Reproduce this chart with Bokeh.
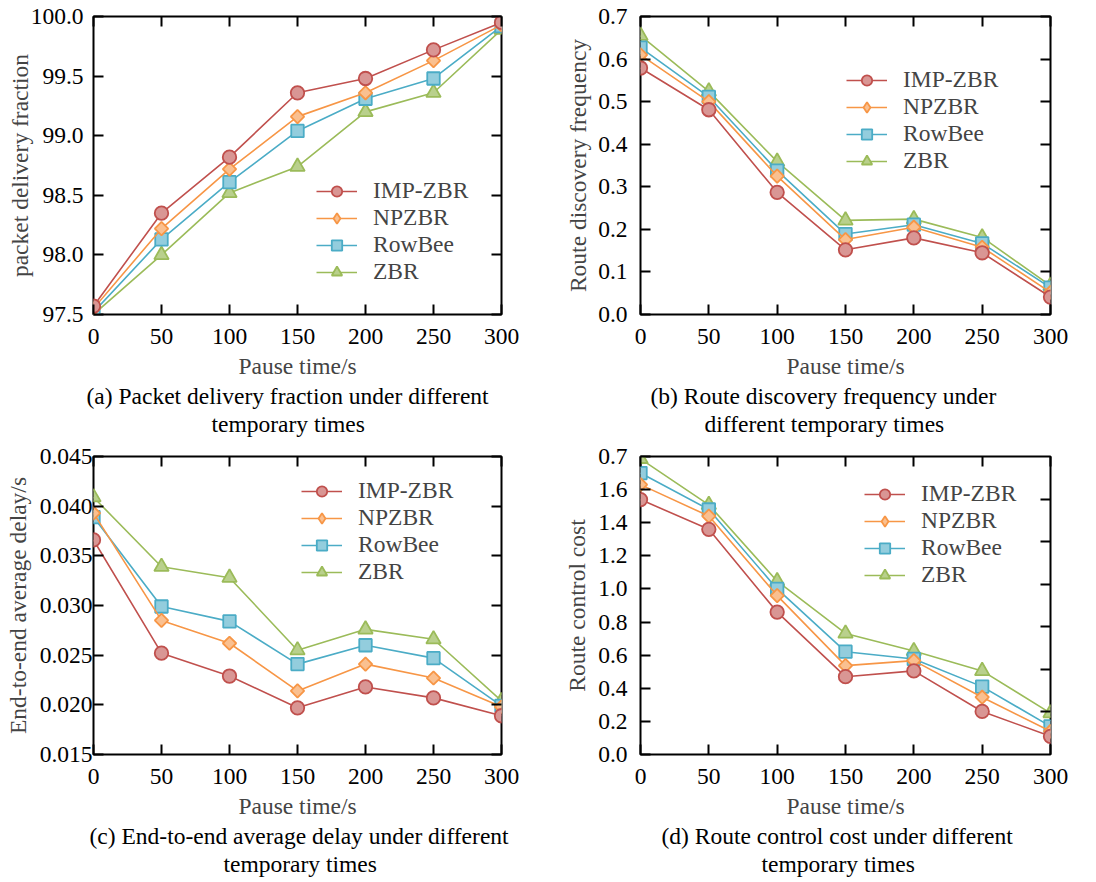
import math
from bokeh.plotting import figure
from bokeh.layouts import column, row
from bokeh.models import (Range1d, FixedTicker, LinearAxis, PrintfTickFormatter,
                          Legend, LegendItem, Title)
from bokeh.embed import file_html
from bokeh.resources import INLINE

# ---------------- data ----------------
pause_time = [0, 50, 100, 150, 200, 250, 300]
series_names = ["IMP-ZBR", "NPZBR", "RowBee", "ZBR"]

# (a) packet delivery fraction
pdf_imp = [97.57, 98.35, 98.82, 99.36, 99.48, 99.72, 99.95]
pdf_np = [97.55, 98.22, 98.72, 99.16, 99.36, 99.63, 99.93]
pdf_row = [97.52, 98.13, 98.61, 99.04, 99.31, 99.48, 99.92]
pdf_zbr = [97.50, 98.00, 98.52, 98.74, 99.20, 99.36, 99.89]

# (b) route discovery frequency
rdf_imp = [0.579, 0.481, 0.287, 0.152, 0.180, 0.145, 0.041]
rdf_np = [0.610, 0.500, 0.325, 0.176, 0.205, 0.158, 0.052]
rdf_row = [0.627, 0.511, 0.338, 0.189, 0.211, 0.167, 0.063]
rdf_zbr = [0.655, 0.524, 0.359, 0.221, 0.224, 0.181, 0.068]

# (c) end-to-end average delay
delay_imp = [0.0366, 0.0252, 0.0229, 0.0197, 0.0218, 0.0207, 0.0189]
delay_np = [0.0393, 0.0285, 0.0262, 0.0214, 0.0241, 0.0227, 0.0198]
delay_row = [0.0389, 0.0299, 0.0284, 0.0241, 0.0260, 0.0247, 0.0199]
delay_zbr = [0.0409, 0.0339, 0.0328, 0.0255, 0.0276, 0.0266, 0.0204]

# (d) route control cost
cost_imp = [1.54, 1.36, 0.86, 0.47, 0.505, 0.26, 0.11]
cost_np = [1.63, 1.44, 0.96, 0.537, 0.567, 0.346, 0.14]
cost_row = [1.70, 1.48, 1.00, 0.621, 0.577, 0.41, 0.17]
cost_zbr = [1.786, 1.508, 1.047, 0.731, 0.625, 0.505, 0.25]

ticks_a = [97.5, 98.0, 98.5, 99.0, 99.5, 100.0]
ticks_b = [0.0, 0.1, 0.2, 0.3, 0.4, 0.5, 0.6, 0.7]
ticks_c = [0.015, 0.020, 0.025, 0.030, 0.035, 0.040, 0.045]
ticks_d = [0.0, 0.2, 0.4, 0.6, 0.8, 1.0, 1.2, 1.4, 1.6, 1.8]
labels_d = {1.8: "0.7"}
ticks_d_right = [0.1, 0.2, 0.3, 0.4, 0.5, 0.6]

x_title = "Pause time/s"
y_titles = ["packet delivery fraction", "Route discovery frequency",
            "End-to-end average delay/s", "Route control cost"]
captions = [("(a) Packet delivery fraction under different", "temporary times"),
            ("(b) Route discovery frequency under", "different temporary times"),
            ("(c) End-to-end average delay under different", "temporary times"),
            ("(d) Route control cost under different", "temporary times")]

# ---------------- style ----------------
FONT = "Liberation Serif"
FS = "23.5px"
line_colors = ["#c0504d", "#f79646", "#4bacc6", "#9bbb59"]
fill_colors = ["#d99694", "#fac090", "#93cddd", "#b9d08c"]
markers = ["circle", "square", "square", "triangle"]
legend_markers = ["circle", "diamond", "square", "triangle"]
marker_sizes = [13.5, 9.5, 12.5, 14.5]
marker_angles = [0, math.pi / 4, 0, 0]


def style_axis(ax, ticks, show_labels=True, standoff=10):
    ax.ticker = FixedTicker(ticks=ticks)
    ax.axis_line_color = None
    ax.major_tick_in = 10
    ax.major_tick_out = 0
    ax.minor_tick_in = 0
    ax.minor_tick_out = 0
    ax.major_tick_line_color = "black"
    ax.major_tick_line_width = 2
    ax.major_label_text_font = FONT
    ax.major_label_text_color = "black"
    if show_labels:
        ax.major_label_text_font_size = FS
        ax.major_label_standoff = standoff
    else:
        ax.major_label_overrides = {t: "" for t in ticks}
        ax.major_label_text_font_size = "1px"
        ax.major_label_standoff = 0


def make_panel(idx, height, yr, yticks, ys, fmt, border_left, border_right,
               border_bottom, ystandoff, ylab_standoff, cap_offsets, leg_loc,
               overrides=None, right_ticks=None):
    p = figure(width=548, height=height, x_range=Range1d(0, 300), y_range=Range1d(*yr),
               output_backend="svg", toolbar_location=None,
               min_border_left=border_left, min_border_right=border_right,
               min_border_top=16, min_border_bottom=border_bottom)
    p.grid.visible = False
    p.outline_line_color = "black"
    p.outline_line_width = 2
    p.background_fill_color = "white"
    p.border_fill_color = "white"

    # bottom axis
    xa = p.xaxis[0]
    style_axis(xa, pause_time, True, 14)
    xa.axis_label = x_title
    xa.axis_label_text_font = FONT
    xa.axis_label_text_font_size = FS
    xa.axis_label_text_font_style = "normal"
    xa.axis_label_standoff = 6

    # left axis
    ya = p.yaxis[0]
    style_axis(ya, yticks, True, ystandoff)
    ya.formatter = PrintfTickFormatter(format=fmt)
    if overrides:
        ya.major_label_overrides = overrides
    ya.axis_label = y_titles[idx]
    ya.axis_label_text_font = FONT
    ya.axis_label_text_font_size = FS
    ya.axis_label_text_font_style = "normal"
    ya.axis_label_standoff = ylab_standoff

    # top axis (ticks only)
    top = LinearAxis()
    style_axis(top, pause_time, False)
    p.add_layout(top, "above")

    # right axis (ticks only)
    if right_ticks is not None:
        p.extra_y_ranges = {"r": Range1d(0, 0.7)}
        ra = LinearAxis(y_range_name="r")
        style_axis(ra, right_ticks, False)
    else:
        ra = LinearAxis()
        style_axis(ra, yticks, False)
    p.add_layout(ra, "right")

    # series (drawn in reverse order so IMP-ZBR is on top)
    items = {}
    for i in reversed(range(4)):
        l = p.line(pause_time, ys[i], line_color=line_colors[i], line_width=1.6)
        p.scatter(pause_time, ys[i], marker=markers[i], size=marker_sizes[i],
                  angle=marker_angles[i], fill_color=fill_colors[i],
                  line_color=line_colors[i], line_width=1.8)
        # hidden twin used only for the legend symbol
        lg = p.scatter(pause_time, ys[i], marker=legend_markers[i], size=marker_sizes[i],
                       fill_color=fill_colors[i], line_color=line_colors[i],
                       line_width=1.8, visible=False)
        items[i] = LegendItem(label=series_names[i], renderers=[l, lg])
    legend = Legend(items=[items[i] for i in range(4)], location=leg_loc,
                    padding=0, margin=0, spacing=0, glyph_width=41, glyph_height=26,
                    label_height=26, label_standoff=16, border_line_color=None,
                    background_fill_alpha=0, label_text_font=FONT,
                    label_text_font_size=FS, label_text_baseline="middle")
    p.add_layout(legend)

    # caption (two lines below the x axis)
    for text, off, so in zip(captions[idx], cap_offsets, (-1, 0)):
        t = Title(text=text, align="left", offset=off, standoff=so,
                  text_font=FONT, text_font_size=FS, text_font_style="normal",
                  text_color="black")
        p.add_layout(t, "below")
    return p


pa = make_panel(0, 440, (97.5, 100.0), ticks_a, [pdf_imp, pdf_np, pdf_row, pdf_zbr], "%.1f",
                93, 47, 126, 10, -5, (-7, 118), (223, 29))
pb = make_panel(1, 440, (0.0, 0.7), ticks_b, [rdf_imp, rdf_np, rdf_row, rdf_zbr], "%.1f",
                92, 46, 126, 13, 4, (10, 64), (206, 140))
pc = make_panel(2, 442, (0.015, 0.045), ticks_c, [delay_imp, delay_np, delay_row, delay_zbr],
                "%.3f", 93, 47, 128, 1, 6, (-4, 130), (208, 169))
pd_ = make_panel(3, 442, (0.0, 1.8), ticks_d, [cost_imp, cost_np, cost_row, cost_zbr], "%.1f",
                 92, 46, 128, 13, 5, (21, 121), (224, 166),
                 overrides=labels_d, right_ticks=ticks_d_right)

layout = column(row(pa, pb), row(pc, pd_))
open("out.html", "w").write(file_html(layout, INLINE))
